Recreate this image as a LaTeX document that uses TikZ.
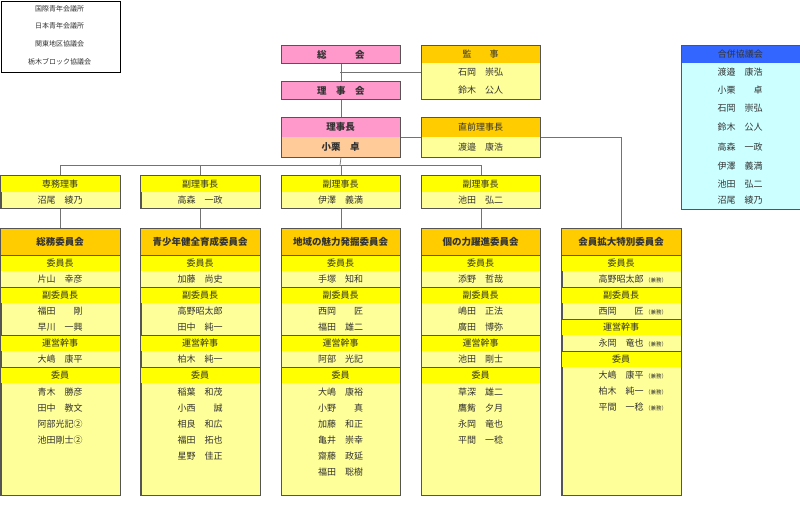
\documentclass[tikz,border=0pt]{standalone}
\usepackage{fontspec}
\setmainfont{Noto Sans CJK JP}
\definecolor{pk}{HTML}{FF99CC}
\definecolor{pc}{HTML}{FFCC99}
\definecolor{og}{HTML}{FFCC00}
\definecolor{yl}{HTML}{FFFF00}
\definecolor{ly}{HTML}{FFFF99}
\definecolor{bl}{HTML}{3366FF}
\definecolor{cy}{HTML}{CCFFFF}
\definecolor{bd}{HTML}{555555}
\definecolor{tx}{HTML}{333333}
\newcommand\nm[2]{\hbox to 5em{#1\hfill#2}}
\newcommand\kn{\,{\fontsize{5.5}{6}\selectfont（兼務）}}
\tikzset{
 x=1pt,y=-1pt,
 every node/.style={text=tx,font=\fontsize{9}{10}\selectfont},
 box/.style={draw=bd,line width=0.9pt,minimum width=119pt,inner sep=0,anchor=north west},
 cell/.style={minimum width=119pt,minimum height=16pt,inner sep=0,anchor=north west},
 sep/.style={draw=bd,line width=0.9pt},
 con/.style={draw=gray!90!black,line width=0.7pt},
 hd/.style={font=\bfseries\fontsize{9.5}{10}\selectfont}
}
% section header: x, y, text
\newcommand\sh[3]{\fill[yl] (#1,#2) rectangle ++(119,16);\draw[sep] (#1,#2)--++(119,0);\node[cell] at (#1,#2) {#3};}
\newcommand\nr[4]{\node[cell] at (#1,#2) {\nm{#3}{#4}};}
\newcommand\nk[4]{\node[anchor=west,inner sep=0] at ($(#1,#2)+(37,8)$) {\nm{#3}{#4}\kn};}
\usetikzlibrary{calc}
\begin{document}
\begin{tikzpicture}
\useasboundingbox (0,0) rectangle (800,504);
% legend
\node[box,draw=black,minimum height=71.5pt,fill=white] (leg) at (0.5,0.5) {};
\foreach \t/\y in {国際青年会議所/9,日本青年会議所/26,関東地区協議会/44,栃木ブロック協議会/62}
  \node[font=\fontsize{7}{8}\selectfont] at (59.5,\y) {\t};
% top
\node[box,fill=pk,minimum height=18pt,hd] (sokai) at (281,45) {総　　　会};
\node[box,fill=pk,minimum height=18pt,hd] (rijikai) at (281,81) {理　事　会};
\node[box,fill=pk,minimum height=40pt] (rijicho) at (281,117) {};
\fill[pc] (281,137) rectangle (400,157);
\node[cell,minimum height=20pt,hd] at (281,117) {理事長};
\node[cell,minimum height=20pt,hd] at (281,137) {小栗　卓};
\draw[bd,line width=0.9pt] (rijicho.north west) rectangle (rijicho.south east);
% kanji
\node[box,fill=ly,minimum height=54pt] (kanji) at (421,45) {};
\fill[og] (421,45) rectangle ++(119,18);
\node[cell,minimum height=18pt] at (421,45) {監　　事};
\nr{421}{64}{石岡}{崇弘}
\nr{421}{82}{鈴木}{公人}
\draw[bd,line width=0.9pt] (kanji.north west) rectangle (kanji.south east);
% zenrijicho
\node[box,fill=ly,minimum height=40pt] (zen) at (421,117) {};
\fill[og] (421,117) rectangle ++(119,20);
\node[cell,minimum height=20pt] at (421,117) {直前理事長};
\node[cell,minimum height=20pt] at (421,137) {\nm{渡邉}{康浩}};
\draw[bd,line width=0.9pt] (zen.north west) rectangle (zen.south east);
% gappei
\node[box,fill=cy,minimum height=164pt,minimum width=118.5pt] (gap) at (681,45) {};
\fill[bl] (681,45) rectangle ++(118.5,18);
\node[cell,minimum width=118.5pt,minimum height=18pt] at (681,45) {合併協議会};
\foreach \a/\b/\y in {渡邉/康浩/72,小栗/卓/90,石岡/崇弘/108,鈴木/公人/127,高森/一政/147,伊澤/義満/166,池田/弘二/184,沼尾/綾乃/200}
  \node at (740,\y) {\nm{\a}{\b}};
\draw[bd,line width=0.9pt] (gap.north west) rectangle (gap.south east);
% second row
\foreach \i/\x/\r/\a/\b in {1/0.5/専務理事/沼尾/綾乃,2/140.5/副理事長/高森/一政,3/281/副理事長/伊澤/義満,4/421/副理事長/池田/弘二}{
  \node[box,fill=ly,minimum height=33pt] (s\i) at (\x,175) {};
  \fill[yl] (\x,175) rectangle ++(119,17);
  \node[cell,minimum height=17pt] at (\x,175) {\r};
  \node[cell,minimum height=16pt] at (\x,192) {\nm{\a}{\b}};
  \draw[bd,line width=0.9pt] (s\i.north west) rectangle (s\i.south east);
}
% committees
\foreach \i/\x/\t in {1/0.5/総務委員会,2/140.5/青少年健全育成委員会,3/281/地域の魅力発掘委員会,4/421/個の力躍進委員会,5/561.5/会員拡大特別委員会}{
  \node[box,fill=ly,minimum height=267pt] (c\i) at (\x,228) {};
  \fill[og] (\x,228) rectangle ++(119,27);
  \node[cell,minimum height=27pt,hd] at (\x,228) {\t};
}
\foreach \x in {0.5,140.5,281,421}{
  \sh{\x}{255}{委員長}\sh{\x}{287}{副委員長}\sh{\x}{335}{運営幹事}\sh{\x}{367}{委員}
  \fill[ly] (\x,271) rectangle ++(119,16);
}
\sh{561.5}{255}{委員長}\sh{561.5}{287}{副委員長}\sh{561.5}{319}{運営幹事}\sh{561.5}{351}{委員}
% names c1
\nr{0.5}{271}{片山}{幸彦}\nr{0.5}{303}{福田}{剛}\nr{0.5}{319}{早川}{一興}\nr{0.5}{351}{大嶋}{康平}
\nr{0.5}{384}{青木}{勝彦}\nr{0.5}{400}{田中}{教文}\nr{0.5}{416}{阿部}{光記②}\nr{0.5}{432}{池田}{剛士②}
% c2
\nr{140.5}{271}{加藤}{尚史}\nr{140.5}{303}{高野昭太郎}{}\nr{140.5}{319}{田中}{純一}\nr{140.5}{351}{柏木}{純一}
\nr{140.5}{384}{稲葉}{和茂}\nr{140.5}{400}{小西}{誠}\nr{140.5}{416}{相良}{和広}\nr{140.5}{432}{福田}{拓也}\nr{140.5}{448}{星野}{佳正}
% c3
\nr{281}{271}{手塚}{知和}\nr{281}{303}{西岡}{匠}\nr{281}{319}{福田}{雄二}\nr{281}{351}{阿部}{光記}
\nr{281}{384}{大嶋}{康裕}\nr{281}{400}{小野}{真}\nr{281}{416}{加藤}{和正}\nr{281}{432}{亀井}{崇幸}\nr{281}{448}{齋藤}{政延}\nr{281}{464}{福田}{聡樹}
% c4
\nr{421}{271}{添野}{哲哉}\nr{421}{303}{嶋田}{正法}\nr{421}{319}{廣田}{博弥}\nr{421}{351}{池田}{剛士}
\nr{421}{384}{草深}{雄二}\nr{421}{400}{鷹觜}{夕月}\nr{421}{416}{永岡}{竜也}\nr{421}{432}{平間}{一稔}
% c5
\nk{561.5}{271}{高野昭太郎}{}\nk{561.5}{303}{西岡}{匠}\nk{561.5}{335}{永岡}{竜也}
\nk{561.5}{367}{大嶋}{康平}\nk{561.5}{383}{柏木}{純一}\nk{561.5}{399}{平間}{一稔}
\foreach \i in {1,...,5} \draw[bd,line width=0.9pt] (c\i.north west) rectangle (c\i.south east);
% connectors
\draw[con] (sokai.south) -- (rijikai.north);
\draw[con] (rijikai.south) -- (rijicho.north);
\coordinate (j1) at (340,72);
\draw[con] (j1) -- (kanji.west|-j1);
\draw[con] (zen.west) -- (zen.west-|rijicho.east);
\draw[con] (zen.east) -| (c5.north);
\coordinate (bus) at (340,165);
\draw[con] (rijicho.south) -- (bus);
\draw[con] (s1.north) -- (s1.north|-bus) -- (s4.north|-bus) -- (s4.north);
\draw[con] (s2.north) -- (s2.north|-bus);
\draw[con] (s3.north) -- (s3.north|-bus);
\foreach \i in {1,...,4} \draw[con] (s\i.south) -- (c\i.north);
\end{tikzpicture}
\end{document}
